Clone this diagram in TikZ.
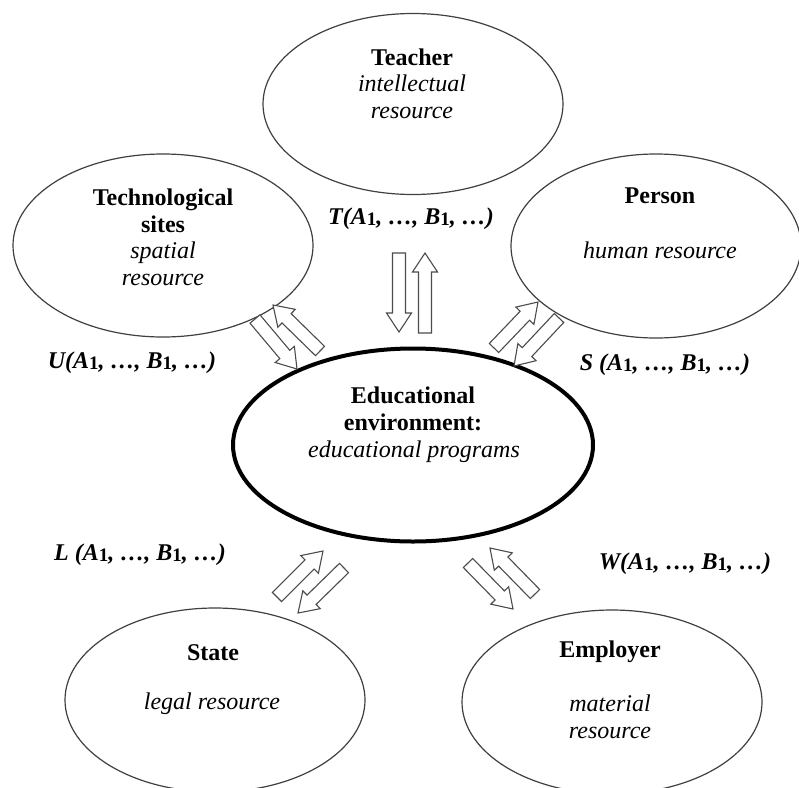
\documentclass[tikz,border=0pt]{standalone}
\usepackage{fontspec}
\setmainfont{Liberation Serif}
\usetikzlibrary{shapes.geometric,calc}
\newcommand\subone{{\upshape\fontsize{19}{19}\selectfont\raisebox{-1.5pt}{1}}}
% hollow block arrow from tail #2 to tip #3, named #1
\newcommand\blockarr[3]{%
  \coordinate (#1-tail) at #2;
  \coordinate (#1-tip) at #3;
  \coordinate (#1-base) at ($(#1-tip)!19pt!(#1-tail)$);
  \draw[blockarrow]
    ($(#1-tail)!6.5pt!-90:(#1-tip)$) -- ($(#1-base)!6.5pt!-90:(#1-tip)$)
    -- ($(#1-base)!12.5pt!-90:(#1-tip)$) -- (#1-tip)
    -- ($(#1-base)!12.5pt!90:(#1-tip)$) -- ($(#1-base)!6.5pt!90:(#1-tip)$)
    -- ($(#1-tail)!6.5pt!90:(#1-tip)$) -- cycle;}
\begin{document}
\begin{tikzpicture}[x=1pt,y=-1pt,
  res/.style={ellipse, draw=black!75, line width=1.2pt, fill=white, inner sep=0},
  core/.style={ellipse, draw=black, line width=4pt, fill=white, inner sep=0},
  blockarrow/.style={draw=black!70, line width=1.1pt, fill=white, line join=miter},
  ttl/.style={font=\fontsize{24}{27}\selectfont\bfseries, align=center, anchor=base, inner sep=0},
  sub/.style={font=\fontsize{24}{27}\selectfont\itshape, align=center, anchor=base, inner sep=0},
  lbl/.style={font=\fontsize{24}{27}\selectfont\bfseries\itshape, anchor=base, inner sep=0}]
\useasboundingbox (0,0) rectangle (799,787);
\clip (0,0) rectangle (799,787);
\fill[white] (0,0) rectangle (799,787);

% resources
\node[res, minimum width=300pt, minimum height=181pt] (teacher) at (413,104) {};
\node[res, minimum width=300pt, minimum height=183pt] (tech) at (163,245.5) {};
\node[res, minimum width=290pt, minimum height=184pt] (person) at (656,246) {};
\node[core, minimum width=360pt, minimum height=193pt] (central) at (413,445) {};
\node[res, minimum width=300pt, minimum height=184pt] (state) at (215,700) {};
\node[res, minimum width=300pt, minimum height=184pt] (employer) at (612,702) {};

% block arrows
\blockarr{tdown}{(399,253)}{(399,332)}
\blockarr{tup}{(425,333)}{(425,253)}
\blockarr{ulin}{(255,319)}{(297,369)}
\blockarr{ulout}{(320,351)}{(273,305)}
\blockarr{urout}{(494,348)}{(538,302)}
\blockarr{urin}{(559,318)}{(514,366)}
\blockarr{llout}{(277,597)}{(323,551)}
\blockarr{llin}{(344,568)}{(298,613)}
\blockarr{lrout}{(468,563)}{(513,609)}
\blockarr{lrin}{(535,594)}{(490,548)}

% texts (base anchor = baseline of the last line)
\node[ttl] (teacher-t) at (412,65) {Teacher};
\node[sub] (teacher-s) at (412,118) {intellectual\\resource};
\node[ttl] (tech-t) at (163,232) {Technological\\sites};
\node[sub] (tech-s) at (163,285) {spatial\\resource};
\node[ttl] (person-t) at (660,203) {Person};
\node[sub] (person-s) at (660,258) {human resource};
\node[ttl] (central-t) at (413,430) {Educational\\environment:};
\node[sub] (central-s) at (414,457) {educational programs};
\node[ttl] (state-t) at (213,660) {State};
\node[sub] (state-s) at (212,709) {legal resource};
\node[ttl] (employer-t) at (610,657) {Employer};
\node[sub] (employer-s) at (610,738) {material\\resource};

% function labels
\node[lbl] (lT) at (411,224) {T(A\subone, …, B\subone, …)};
\node[lbl] (lU) at (132,368) {U(A\subone, …, B\subone, …)};
\node[lbl] (lS) at (665,370) {S (A\subone, …, B\subone, …)};
\node[lbl] (lL) at (140,560) {L (A\subone, …, B\subone, …)};
\node[lbl] (lW) at (685,569) {W(A\subone, …, B\subone, …)};
\end{tikzpicture}
\end{document}
